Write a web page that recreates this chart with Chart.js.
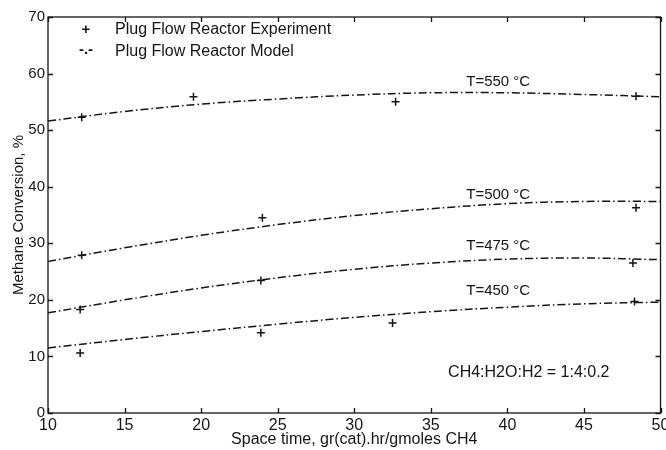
<!DOCTYPE html>
<html>
<head>
<meta charset="utf-8">
<script src="https://cdn.jsdelivr.net/npm/chart.js@4.4.0/dist/chart.umd.min.js"></script>
<style>
  body { margin: 0; background: #fff; }
  canvas { display: block; }
</style>
</head>
<body>
<canvas id="myChart" width="666" height="450"></canvas>
<script>

// Data

const xTicks = [10, 15, 20, 25, 30, 35, 40, 45, 50];
const yTicks = [0, 10, 20, 30, 40, 50, 60, 70];

const modelX = [10, 15, 20, 25, 30, 35, 40, 45, 50];
const model550 = [51.6, 53.3, 54.6, 55.5, 56.2, 56.6, 56.6, 56.3, 55.9];
const model500 = [26.8, 29.2, 31.4, 33.3, 34.9, 36.1, 37.0, 37.4, 37.4];
const model475 = [17.7, 20.0, 22.1, 23.9, 25.4, 26.5, 27.2, 27.4, 27.1];
const model450 = [11.5, 13.0, 14.4, 15.7, 16.9, 17.9, 18.7, 19.3, 19.6];

const exp550X = [12.2, 19.5, 32.7, 48.4];
const exp550 = [52.3, 55.9, 55.0, 56.0];
const exp500X = [12.2, 24.0, 48.4];
const exp500 = [27.9, 34.5, 36.3];
const exp475X = [12.1, 23.9, 48.2];
const exp475 = [18.3, 23.4, 26.5];
const exp450X = [12.1, 23.9, 32.5, 48.3];
const exp450 = [10.6, 14.2, 15.9, 19.7];

const curveLabels = ['T=550 \u00B0C', 'T=500 \u00B0C', 'T=475 \u00B0C', 'T=450 \u00B0C'];
const labelX = [39.4, 39.4, 39.4, 39.4];
const labelY = [58.5, 38.5, 29.5, 21.6];
const ratioLabel = 'CH4:H2O:H2 = 1:4:0.2';

const legendLabels = ['Plug Flow Reactor Experiment', 'Plug Flow Reactor Model'];

const FONT = '"Liberation Sans", Arial, sans-serif';
const INK = '#151515';

function toPoints(xs, ys) {
  return xs.map((x, i) => ({ x: x, y: ys[i] }));
}

function modelSet(ys) {
  return {
    type: 'line',
    data: toPoints(modelX, ys),
    borderColor: INK,
    borderWidth: 1.5,
    borderDash: [8, 3, 1.5, 3],
    pointRadius: 0,
    tension: 0.4,
    fill: false
  };
}

function expSet(xs, ys) {
  return {
    type: 'scatter',
    data: toPoints(xs, ys),
    pointStyle: 'cross',
    pointRadius: 4,
    borderColor: INK,
    borderWidth: 1.5,
    showLine: false
  };
}



// Frame, inward ticks, labels, legend

const decorations = {
  id: 'decorations',
  afterDraw(chart) {
    const { ctx, chartArea: a, scales: { x, y } } = chart;
    ctx.save();
    ctx.strokeStyle = INK;
    ctx.lineWidth = 1.3;
    ctx.strokeRect(a.left, a.top, a.right - a.left, a.bottom - a.top);

    ctx.beginPath();
    xTicks.forEach((v) => {
      const px = Math.round(x.getPixelForValue(v)) + 0.5;
      ctx.moveTo(px, a.bottom); ctx.lineTo(px, a.bottom - 5);
      ctx.moveTo(px, a.top); ctx.lineTo(px, a.top + 5);
    });
    yTicks.forEach((v) => {
      const py = Math.round(y.getPixelForValue(v)) + 0.5;
      ctx.moveTo(a.left, py); ctx.lineTo(a.left + 5, py);
      ctx.moveTo(a.right, py); ctx.lineTo(a.right - 5, py);
    });
    ctx.stroke();

    ctx.fillStyle = INK;
    ctx.font = '15px ' + FONT;
    ctx.textAlign = 'center';
    ctx.textBaseline = 'middle';
    curveLabels.forEach((t, i) => {
      ctx.fillText(t, x.getPixelForValue(labelX[i]), y.getPixelForValue(labelY[i]));
    });
    ctx.font = '16px ' + FONT;
    ctx.fillText(ratioLabel, x.getPixelForValue(41.4), y.getPixelForValue(7.2));

    // legend
    ctx.textAlign = 'left';
    ctx.fillText(legendLabels[0], 115, 30);
    ctx.fillText(legendLabels[1], 115, 52);
    ctx.textAlign = 'center';
    ctx.font = 'bold 15px ' + FONT;
    ctx.fillText('+', 86, 30);
    ctx.fillText('-.-', 86, 50);
    ctx.restore();
  }
};



// Chart

const ctx = document.getElementById('myChart').getContext('2d');

const myChart = new Chart(ctx, {
  type: 'scatter',
  data: {
    datasets: [
      modelSet(model550),
      modelSet(model500),
      modelSet(model475),
      modelSet(model450),
      expSet(exp550X, exp550),
      expSet(exp500X, exp500),
      expSet(exp475X, exp475),
      expSet(exp450X, exp450)
    ]
  },
  options: {
    responsive: false,
    animation: false,
    layout: { padding: { top: 17, right: 2, left: 0, bottom: 0 } },
    plugins: {
      legend: { display: false },
      tooltip: { enabled: false }
    },
    scales: {
      x: {
        type: 'linear',
        min: 10,
        max: 50,
        ticks: { stepSize: 5, color: INK, padding: 3, maxRotation: 0, font: { size: 16, family: FONT } },
        grid: { display: false, drawTicks: false },
        border: { display: false },
        title: {
          display: true,
          text: 'Space time, gr(cat).hr/gmoles CH4',
          color: INK,
          font: { size: 16, family: FONT },
          padding: { top: 0, bottom: 1 }
        },
        afterFit(scale) {
          scale.height = 37;
          scale.paddingLeft = 0;
          scale.paddingRight = 0;
        }
      },
      y: {
        type: 'linear',
        min: 0,
        max: 70,
        ticks: { stepSize: 10, color: INK, padding: 3, font: { size: 15, family: FONT } },
        grid: { display: false, drawTicks: false },
        border: { display: false },
        title: {
          display: true,
          text: 'Methane Conversion, %',
          color: INK,
          font: { size: 15, family: FONT },
          padding: { top: 10, bottom: 0 }
        },
        afterFit(scale) {
          scale.width = 48;
          scale.paddingTop = 0;
          scale.paddingBottom = 0;
        }
      }
    }
  },
  plugins: [decorations]
});

</script>
</body>
</html>
